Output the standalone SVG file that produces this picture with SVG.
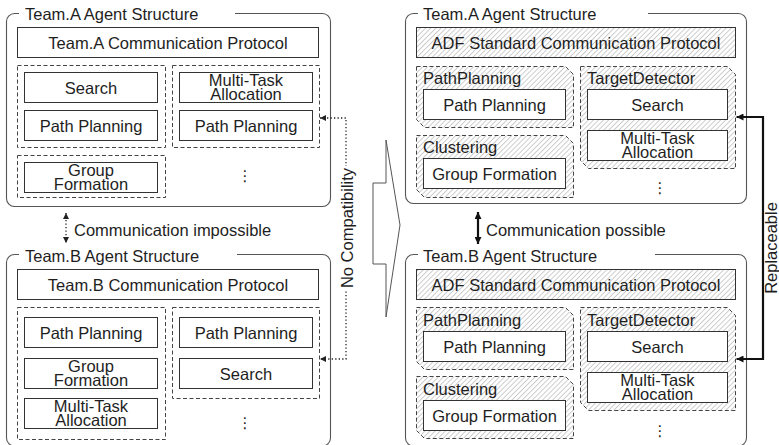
<svg xmlns="http://www.w3.org/2000/svg" width="779" height="445" viewBox="0 0 779 445">
<defs>
<style>
text{font-family:"Liberation Sans",Arial,sans-serif;font-size:16.5px;fill:#1e1e1e}
.c{text-anchor:middle}
.dots{font-family:"DejaVu Sans",sans-serif;font-size:15px;text-anchor:middle}
.panel{fill:none;stroke:#555;stroke-width:1.1}
.box{fill:#fff;stroke:#333;stroke-width:1}
.hbox{fill:url(#hatch);stroke:#333;stroke-width:1}
.dash{fill:none;stroke:#444;stroke-width:1;stroke-dasharray:4 2.5}
.hdash{fill:url(#hatch);stroke:#444;stroke-width:1;stroke-dasharray:4 2.5}
.dot{fill:none;stroke:#222;stroke-width:1.3;stroke-dasharray:1.3 2.2}
.bold{fill:none;stroke:#111;stroke-width:2.2}
</style>
<pattern id="hatch" width="3.6" height="6" patternUnits="userSpaceOnUse" patternTransform="rotate(45)">
<rect width="3.6" height="6" fill="#fff"/>
<line x1="0.5" y1="0" x2="0.5" y2="6" stroke="#c4c4c4" stroke-width="0.9"/>
</pattern>
<marker id="sm" viewBox="0 0 10 10" refX="10" refY="5" markerWidth="6" markerHeight="6" markerUnits="userSpaceOnUse" orient="auto-start-reverse">
<path d="M0,0 L10,5 L0,10 z" fill="#222"/>
</marker>
<marker id="lg" viewBox="0 0 10 10" refX="10" refY="5" markerWidth="8" markerHeight="7" markerUnits="userSpaceOnUse" orient="auto-start-reverse">
<path d="M0,0 L10,5 L0,10 z" fill="#111"/>
</marker>
</defs>
<rect width="779" height="445" fill="#fff"/>

<!-- LEFT TOP: Team.A -->
<g id="teamA-left">
<path class="panel" d="M235 13.5 H322.5 A8 8 0 0 1 330.5 21.5 V198.5 A8 8 0 0 1 322.5 206.5 H14.5 A8 8 0 0 1 6.5 198.5 V21.5 A8 8 0 0 1 14.5 13.5 H19"/>
<text x="25" y="20">Team.A Agent Structure</text>
<g id="A-protocol"><rect class="box" x="17.5" y="27.5" width="301" height="30"/><text class="c" x="168" y="48.5">Team.A Communication Protocol</text></g>
<g id="A-group1"><rect class="dash" x="17.5" y="65.5" width="148" height="82"/>
<g id="A-search"><rect class="box" x="24.5" y="72.5" width="133" height="30"/><text class="c" x="91" y="93.5">Search</text></g>
<g id="A-path1"><rect class="box" x="24.5" y="110.5" width="133" height="30"/><text class="c" x="91" y="131.5">Path Planning</text></g>
</g>
<g id="A-group2"><rect class="dash" x="172.5" y="65.5" width="147" height="82"/>
<g id="A-mta"><rect class="box" x="179.5" y="72.5" width="133" height="30"/><text class="c" x="246" y="86">Multi-Task</text><text class="c" x="246" y="100">Allocation</text></g>
<g id="A-path2"><rect class="box" x="179.5" y="110.5" width="133" height="30"/><text class="c" x="246" y="131.5">Path Planning</text></g>
</g>
<g id="A-group3"><rect class="dash" x="17.5" y="155.5" width="148" height="42"/>
<g id="A-gf"><rect class="box" x="24.5" y="162.5" width="133" height="30"/><text class="c" x="91" y="176">Group</text><text class="c" x="91" y="190">Formation</text></g>
</g>
<text class="dots" x="245" y="181">⋮</text>
</g>

<!-- LEFT BOTTOM: Team.B -->
<g id="teamB-left">
<path class="panel" d="M237 254.5 H322.5 A8 8 0 0 1 330.5 262.5 V438 A8 8 0 0 1 322.5 446 H14.5 A8 8 0 0 1 6.5 438 V262.5 A8 8 0 0 1 14.5 254.5 H19"/>
<text x="25" y="262">Team.B Agent Structure</text>
<g id="B-protocol"><rect class="box" x="17.5" y="269.5" width="301" height="30"/><text class="c" x="168" y="290.5">Team.B Communication Protocol</text></g>
<g id="B-group1"><rect class="dash" x="17.5" y="307.5" width="148" height="132"/>
<g id="B-path1"><rect class="box" x="24.5" y="317.5" width="133" height="30"/><text class="c" x="91" y="338.5">Path Planning</text></g>
<g id="B-gf"><rect class="box" x="24.5" y="358.5" width="133" height="30"/><text class="c" x="91" y="372">Group</text><text class="c" x="91" y="386">Formation</text></g>
<g id="B-mta"><rect class="box" x="24.5" y="398.5" width="133" height="30"/><text class="c" x="91" y="412">Multi-Task</text><text class="c" x="91" y="426">Allocation</text></g>
</g>
<g id="B-group2"><rect class="dash" x="172.5" y="307.5" width="147" height="91"/>
<g id="B-path2"><rect class="box" x="179.5" y="317.5" width="133" height="30"/><text class="c" x="246" y="338.5">Path Planning</text></g>
<g id="B-search"><rect class="box" x="179.5" y="358.5" width="133" height="30"/><text class="c" x="246" y="379.5">Search</text></g>
</g>
<text class="dots" x="245" y="428">⋮</text>
</g>

<!-- RIGHT TOP: Team.A ADF -->
<g id="teamA-right">
<path class="panel" d="M648 13.5 H738.5 A8 8 0 0 1 746.5 21.5 V195.5 A8 8 0 0 1 738.5 203.5 H413.5 A8 8 0 0 1 405.5 195.5 V21.5 A8 8 0 0 1 413.5 13.5 H418"/>
<text x="423" y="20">Team.A Agent Structure</text>
<g id="RA-protocol"><rect class="hbox" x="416.5" y="27.5" width="319" height="30"/><text class="c" x="576" y="48.5">ADF Standard Communication Protocol</text></g>
<g id="RA-pp"><path class="hdash" d="M416.5 66.5 H565.5 L573.5 74.5 V127.5 H424.5 L416.5 119.5 Z"/><text x="423" y="84">PathPlanning</text>
<g id="RA-path"><rect class="box" x="423.5" y="89.5" width="142" height="30"/><text class="c" x="494.5" y="110.5">Path Planning</text></g></g>
<g id="RA-cl"><path class="hdash" d="M416.5 135.5 H565.5 L573.5 143.5 V197.5 H424.5 L416.5 189.5 Z"/><text x="423" y="153">Clustering</text>
<g id="RA-gf"><rect class="box" x="423.5" y="158.5" width="142" height="30"/><text class="c" x="494.5" y="179.5">Group Formation</text></g></g>
<g id="RA-td"><path class="hdash" d="M580.5 66.5 H727.5 L735.5 74.5 V168.5 H588.5 L580.5 160.5 Z"/><text x="587" y="84">TargetDetector</text>
<g id="RA-search"><rect class="box" x="587.5" y="89.5" width="140" height="30"/><text class="c" x="657.5" y="110.5">Search</text></g>
<g id="RA-mta"><rect class="box" x="587.5" y="130.5" width="140" height="30"/><text class="c" x="657.5" y="144">Multi-Task</text><text class="c" x="657.5" y="158">Allocation</text></g></g>
<text class="dots" x="660" y="193">⋮</text>
</g>

<!-- RIGHT BOTTOM: Team.B ADF -->
<g id="teamB-right">
<path class="panel" d="M655 254.5 H738.5 A8 8 0 0 1 746.5 262.5 V438 A8 8 0 0 1 738.5 446 H413.5 A8 8 0 0 1 405.5 438 V262.5 A8 8 0 0 1 413.5 254.5 H418"/>
<text x="423" y="262">Team.B Agent Structure</text>
<g id="RB-protocol"><rect class="hbox" x="416.5" y="269.5" width="319" height="30"/><text class="c" x="576" y="290.5">ADF Standard Communication Protocol</text></g>
<g id="RB-pp"><path class="hdash" d="M416.5 307.5 H565.5 L573.5 315.5 V369.5 H424.5 L416.5 361.5 Z"/><text x="423" y="326">PathPlanning</text>
<g id="RB-path"><rect class="box" x="423.5" y="331.5" width="142" height="30"/><text class="c" x="494.5" y="352.5">Path Planning</text></g></g>
<g id="RB-cl"><path class="hdash" d="M416.5 376.5 H565.5 L573.5 384.5 V438.5 H424.5 L416.5 430.5 Z"/><text x="423" y="395">Clustering</text>
<g id="RB-gf"><rect class="box" x="423.5" y="400.5" width="142" height="30"/><text class="c" x="494.5" y="421.5">Group Formation</text></g></g>
<g id="RB-td"><path class="hdash" d="M580.5 307.5 H727.5 L735.5 315.5 V410.5 H588.5 L580.5 402.5 Z"/><text x="587" y="326">TargetDetector</text>
<g id="RB-search"><rect class="box" x="587.5" y="331.5" width="140" height="30"/><text class="c" x="657.5" y="352.5">Search</text></g>
<g id="RB-mta"><rect class="box" x="587.5" y="372.5" width="140" height="30"/><text class="c" x="657.5" y="386">Multi-Task</text><text class="c" x="657.5" y="400">Allocation</text></g></g>
<text class="dots" x="660" y="436">⋮</text>
</g>

<!-- Big transition arrow -->
<g id="transition">
<polygon points="373,183 386,183 386,140 400,225 386,317 386,264 373,264" fill="#fff" stroke="#555" stroke-width="1"/>
</g>

<!-- Connectors -->
<g id="connectors">
<path class="dot" d="M320 118 H346 V359 H320" marker-start="url(#sm)" marker-end="url(#sm)"/>
<path class="dot" d="M66 213 V243" marker-start="url(#sm)" marker-end="url(#sm)"/>
<path class="bold" d="M478 212 V244" marker-start="url(#lg)" marker-end="url(#lg)"/>
<path class="bold" d="M736.5 117 H763 V359 H736.5" marker-start="url(#lg)" marker-end="url(#lg)"/>
</g>

<!-- Connector labels -->
<g id="labels">
<text x="74" y="236">Communication impossible</text>
<text x="486" y="236">Communication possible</text>
<rect x="339" y="166" width="16" height="124" fill="#fff"/>
<text class="c" transform="translate(353,228) rotate(-90)">No Compatibility</text>
<text class="c" transform="translate(776.5,248) rotate(-90)">Replaceable</text>
</g>
</svg>
